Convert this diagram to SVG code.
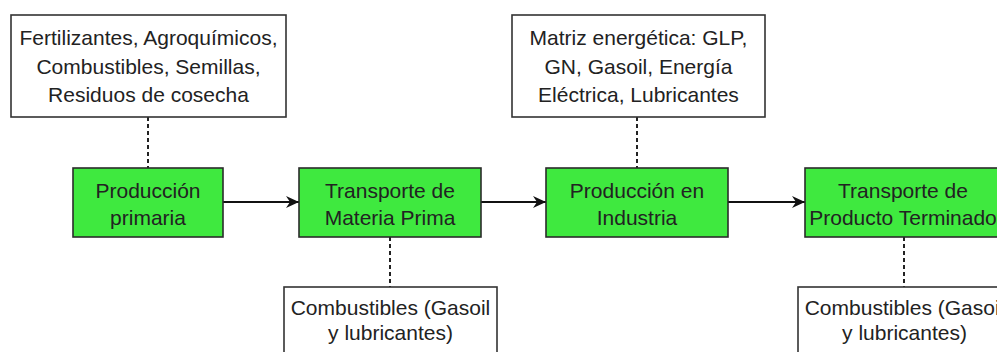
<svg xmlns="http://www.w3.org/2000/svg" width="997" height="352" viewBox="0 0 997 352">
<defs>
<marker id="arr" markerWidth="14" markerHeight="12" refX="13" refY="6" orient="auto" markerUnits="userSpaceOnUse">
<path d="M0,0 L13,6 L0,12 L4,6 Z" fill="#111"/>
</marker>
</defs>
<style>
.lbl{font-family:"Liberation Sans",Arial,sans-serif;font-size:21px;fill:#222;text-anchor:middle}
.wbox{fill:#fff;stroke:#333;stroke-width:1.6}
.gbox{fill:#3fe93f;stroke:#2b2b2b;stroke-width:1.6}
.flow{stroke:#111;stroke-width:2;fill:none;marker-end:url(#arr)}
.dash{stroke:#222;stroke-width:2;fill:none;stroke-dasharray:4 3}
</style>
<rect width="997" height="352" fill="#fff"/>
<g id="connectors">
<line class="flow" x1="223" y1="202" x2="299" y2="202"/>
<line class="flow" x1="481" y1="202" x2="546" y2="202"/>
<line class="flow" x1="728" y1="202" x2="805" y2="202"/>
<line class="dash" x1="148" y1="117" x2="148" y2="168"/>
<line class="dash" x1="637" y1="117" x2="637" y2="168"/>
<line class="dash" x1="390" y1="237" x2="390" y2="287"/>
<line class="dash" x1="904" y1="237" x2="904" y2="287"/>
</g>
<g id="insumos">
<rect class="wbox" x="11" y="15" width="275" height="102"/>
<text class="lbl" x="148.5" y="45">Fertilizantes, Agroquímicos,</text>
<text class="lbl" x="148.5" y="74">Combustibles, Semillas,</text>
<text class="lbl" x="148.5" y="102">Residuos de cosecha</text>
</g>
<g id="matriz">
<rect class="wbox" x="512" y="15" width="253" height="102"/>
<text class="lbl" x="638.5" y="45">Matriz energética: GLP,</text>
<text class="lbl" x="638.5" y="74">GN, Gasoil, Energía</text>
<text class="lbl" x="638.5" y="102">Eléctrica, Lubricantes</text>
</g>
<g id="produccion-primaria">
<rect class="gbox" x="73" y="168" width="150" height="69"/>
<text class="lbl" x="148" y="198">Producción</text>
<text class="lbl" x="148" y="225">primaria</text>
</g>
<g id="transporte-mp">
<rect class="gbox" x="299" y="168" width="182" height="69"/>
<text class="lbl" x="390" y="198">Transporte de</text>
<text class="lbl" x="390" y="225">Materia Prima</text>
</g>
<g id="produccion-industria">
<rect class="gbox" x="546" y="168" width="182" height="69"/>
<text class="lbl" x="637" y="198">Producción en</text>
<text class="lbl" x="637" y="225">Industria</text>
</g>
<g id="transporte-pt">
<rect class="gbox" x="805" y="168" width="196" height="69"/>
<text class="lbl" x="903" y="198">Transporte de</text>
<text class="lbl" x="903" y="225">Producto Terminado</text>
</g>
<g id="combustibles-1">
<rect class="wbox" x="284" y="287" width="213" height="75"/>
<text class="lbl" x="390.5" y="315">Combustibles (Gasoil</text>
<text class="lbl" x="390.5" y="340">y lubricantes)</text>
</g>
<g id="combustibles-2">
<rect class="wbox" x="798" y="287" width="213" height="75"/>
<text class="lbl" x="904.5" y="315">Combustibles (Gasoil</text>
<text class="lbl" x="904.5" y="340">y lubricantes)</text>
</g>
</svg>
